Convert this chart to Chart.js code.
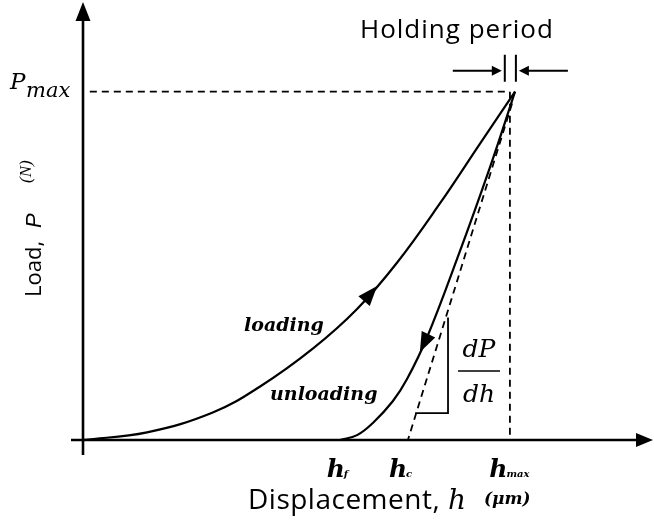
<!DOCTYPE html>
<html>
<head>
<meta charset="utf-8">
<script src="https://cdn.jsdelivr.net/npm/chart.js@4/dist/chart.umd.min.js"></script>
<style>
  body { margin: 0; background: #fff; }
  #wrap { width: 654px; height: 524px; }
</style>
</head>
<body>
<div id="wrap"><canvas id="curveChart" width="654" height="524"></canvas></div>
<script>
// displacement as h/hmax, load as P/Pmax
const loadingH = [0, 0.150, 0.304, 0.414, 0.539, 0.642, 0.735, 0.836, 0.930, 1.012];
const loadingP = [0, 0.022, 0.079, 0.153, 0.263, 0.376, 0.508, 0.679, 0.851, 1.0];
const unloadingH = [1.012, 0.953, 0.876, 0.806, 0.759, 0.726, 0.679, 0.642, 0.602];
const unloadingP = [1.0, 0.782, 0.519, 0.295, 0.175, 0.112, 0.049, 0.014, 0];
const tangentH = [1.005, 0.761];
const tangentP = [0.966, 0];
const triangleH = [0.778, 0.855, 0.855];
const triangleP = [0.077, 0.077, 0.352];
const pmaxLineH = [0.016, 1.0];
const pmaxLineP = [1.0, 1.0];
const hmaxLineH = [1.0, 1.0];
const hmaxLineP = [1.0, 0];
const tickValues = [0.597, 0.745, 1.0];
const tickLabels = [['h', 'f'], ['h', 'c'], ['h', 'max']];
const holdBars = [0.988, 1.014];
const arrowTips = [[0.689, 0.442], [0.789, 0.252]];

function pts(hs, ps) {
  return hs.map((h, i) => ({ x: h, y: ps[i] }));
}

function line(data, dashed, width, smooth) {
  return {
    data: data,
    showLine: true,
    borderColor: '#000',
    backgroundColor: '#000',
    borderWidth: width,
    borderDash: dashed ? [7, 5] : [],
    pointRadius: 0,
    tension: smooth ? 0.4 : 0
  };
}

function arrowHead(ctx, x, y, ang, len, half) {
  ctx.save();
  ctx.translate(x, y);
  ctx.rotate(ang);
  ctx.beginPath();
  ctx.moveTo(0, 0);
  ctx.lineTo(-len, -half);
  ctx.lineTo(-len, half);
  ctx.closePath();
  ctx.fill();
  ctx.restore();
}

// direction of the curve (in data order) at a given h
function curveAngle(xs, ys, hs, ps, h) {
  for (let i = 0; i < hs.length - 1; i++) {
    const a = hs[i], b = hs[i + 1];
    if ((h - a) * (h - b) <= 0) {
      const dx = xs.getPixelForValue(b) - xs.getPixelForValue(a);
      const dy = ys.getPixelForValue(ps[i + 1]) - ys.getPixelForValue(ps[i]);
      return Math.atan2(dy, dx);
    }
  }
  return 0;
}

const sketchPlugin = {
  id: 'sketch',
  afterDatasetsDraw(chart) {
    const ctx = chart.ctx;
    const xs = chart.scales.x, ys = chart.scales.y;
    const x0 = xs.getPixelForValue(0), y0 = ys.getPixelForValue(0);
    ctx.save();
    ctx.fillStyle = '#000';
    ctx.strokeStyle = '#000';

    // axes with arrows
    ctx.lineWidth = 2.6;
    ctx.beginPath();
    ctx.moveTo(x0 - 12, y0);
    ctx.lineTo(xs.right, y0);
    ctx.moveTo(x0, y0 + 15);
    ctx.lineTo(x0, ys.top);
    ctx.stroke();
    arrowHead(ctx, xs.right + 15, y0, 0, 17, 7);
    arrowHead(ctx, x0, ys.top - 13, -Math.PI / 2, 19, 7.5);

    // arrows on the curves
    const a1 = curveAngle(xs, ys, loadingH, loadingP, arrowTips[0][0]);
    arrowHead(ctx, xs.getPixelForValue(arrowTips[0][0]), ys.getPixelForValue(arrowTips[0][1]), a1, 20, 7.5);
    const a2 = curveAngle(xs, ys, unloadingH, unloadingP, arrowTips[1][0]);
    arrowHead(ctx, xs.getPixelForValue(arrowTips[1][0]), ys.getPixelForValue(arrowTips[1][1]), a2, 20, 7.5);

    // holding period marker
    const yp = ys.getPixelForValue(1);
    const b1 = xs.getPixelForValue(holdBars[0]), b2 = xs.getPixelForValue(holdBars[1]);
    ctx.lineWidth = 2;
    ctx.beginPath();
    ctx.moveTo(b1, yp - 37); ctx.lineTo(b1, yp - 10);
    ctx.moveTo(b2, yp - 37); ctx.lineTo(b2, yp - 10);
    ctx.moveTo(b1 - 52, yp - 21); ctx.lineTo(b1 - 8, yp - 21);
    ctx.moveTo(b2 + 52, yp - 21); ctx.lineTo(b2 + 8, yp - 21);
    ctx.stroke();
    arrowHead(ctx, b1 - 3, yp - 21, 0, 10, 5);
    arrowHead(ctx, b2 + 3, yp - 21, Math.PI, 10, 5);

    ctx.textBaseline = 'alphabetic';
    ctx.textAlign = 'left';
    ctx.letterSpacing = '1px';
    ctx.font = '26px "Open Sans"';
    ctx.fillText('Holding period', 360, 38);
    ctx.letterSpacing = '0px';

    // Pmax
    ctx.font = 'italic 23px "DejaVu Serif"';
    ctx.fillText('P', 10, yp - 3);
    ctx.font = 'italic 21px "DejaVu Serif"';
    ctx.fillText('max', 26, yp + 5);

    // x tick labels
    tickValues.forEach((v, i) => {
      const px = xs.getPixelForValue(v);
      ctx.font = 'bold italic 25px "DejaVu Serif"';
      const wMain = ctx.measureText(tickLabels[i][0]).width;
      ctx.font = 'bold italic 10px "DejaVu Serif"';
      const wSub = ctx.measureText(tickLabels[i][1]).width;
      const left = px - (wMain + wSub) / 2;
      ctx.font = 'bold italic 25px "DejaVu Serif"';
      ctx.fillText(tickLabels[i][0], left, y0 + 37);
      ctx.font = 'bold italic 10px "DejaVu Serif"';
      ctx.fillText(tickLabels[i][1], left + wMain - 1, y0 + 37);
    });

    // x title
    ctx.letterSpacing = '0.5px';
    ctx.font = '28px "Open Sans"';
    ctx.fillText('Displacement,', 248, 509);
    ctx.letterSpacing = '0px';
    ctx.font = 'italic 28px "DejaVu Serif"';
    ctx.fillText('h', 448, 509);
    ctx.font = 'bold italic 17px "DejaVu Serif"';
    ctx.fillText('(\u03BCm)', 484, 504);

    // y title
    ctx.save();
    ctx.translate(41, 297);
    ctx.rotate(-Math.PI / 2);
    ctx.font = '22px "Open Sans"';
    ctx.fillText('Load,', 0, 0);
    ctx.font = 'italic 22px "Liberation Sans"';
    ctx.fillText('P', 69, 0);
    ctx.font = 'italic 17px "Liberation Serif"';
    ctx.fillText('(N)', 114, -10);
    ctx.restore();

    // curve names
    ctx.font = 'bold italic 19px "DejaVu Serif"';
    ctx.fillText('loading', 244, 331);
    ctx.fillText('unloading', 270, 400);

    // dP/dh
    ctx.textAlign = 'center';
    ctx.font = 'italic 25px "DejaVu Serif"';
    ctx.fillText('dP', 479, 357);
    ctx.fillText('dh', 479, 402);
    ctx.lineWidth = 1.6;
    ctx.beginPath();
    ctx.moveTo(458, 371); ctx.lineTo(500, 371);
    ctx.stroke();
    ctx.restore();
  }
};

new Chart(document.getElementById('curveChart'), {
  type: 'scatter',
  data: {
    datasets: [
      line(pts(loadingH, loadingP), false, 2.2, true),
      line(pts(unloadingH, unloadingP), false, 2.2, true),
      line(pts(tangentH, tangentP), true, 1.8, false),
      line(pts(triangleH, triangleP), false, 1.8, false),
      line(pts(pmaxLineH, pmaxLineP), true, 1.8, false),
      line(pts(hmaxLineH, hmaxLineP), true, 1.8, false)
    ]
  },
  options: {
    responsive: false,
    animation: false,
    layout: { padding: { left: 83, right: 16, top: 15, bottom: 84 } },
    plugins: { legend: { display: false }, tooltip: { enabled: false } },
    scales: {
      x: { type: 'linear', min: 0, max: 1.3, display: false },
      y: { type: 'linear', min: 0, max: 1.22, display: false }
    }
  },
  plugins: [sketchPlugin]
});
</script>
</body>
</html>
